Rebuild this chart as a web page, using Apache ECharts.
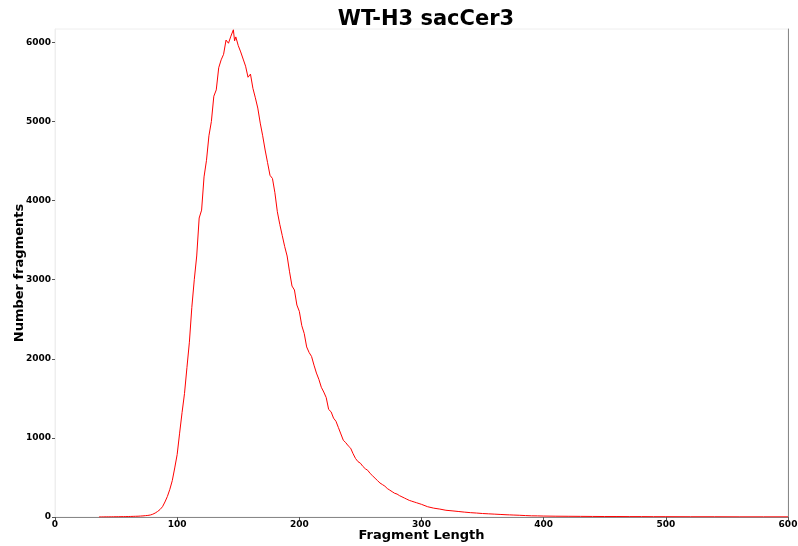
<!DOCTYPE html>
<html>
<head>
<meta charset="utf-8">
<script src="https://cdn.jsdelivr.net/npm/echarts@6/dist/echarts.min.js"></script>
<style>
  html, body { margin: 0; padding: 0; background: #fff; }
  #chart { width: 798px; height: 546px; }
</style>
</head>
<body>
<div id="chart"></div>
<script>
// fragment length (bp) and counts
const lengths = [
  36, 38, 40, 42, 44, 46, 48, 50, 52, 54, 56, 58, 60, 62, 64, 66, 68, 70, 72, 74,
  76, 78, 80, 82, 84, 86, 88, 90, 92, 94, 96, 98, 100, 102, 104, 106, 108, 110, 112, 114,
  116, 118, 120, 122, 124, 126, 128, 130, 132, 134, 136, 138, 140, 142, 144, 146, 147, 148, 150, 152,
  154, 156, 158, 160, 162, 164, 166, 168, 170, 172, 174, 176, 178, 180, 182, 184, 186, 188, 190, 192,
  194, 196, 198, 200, 202, 204, 206, 208, 210, 212, 214, 216, 218, 220, 222, 224, 226, 228, 230, 232,
  234, 236, 238, 240, 242, 244, 246, 248, 250, 252, 254, 256, 258, 260, 262, 264, 266, 268, 270, 272,
  274, 276, 278, 280, 282, 284, 286, 288, 290, 292, 294, 296, 298, 300,
  305, 310, 315, 320, 325, 330, 335, 340, 345, 350, 355, 360, 365, 370, 371, 372, 375, 380, 385, 390,
  395, 400, 410, 420, 430, 440, 450, 460, 470, 480, 490, 500, 520, 540, 560, 580, 600
];
const counts = [
  0, 1, 1, 2, 2, 2, 3, 3, 4, 4, 5, 5, 6, 7, 8, 9, 10, 12, 14, 17,
  20, 25, 35, 50, 70, 95, 130, 190, 260, 350, 460, 620, 790, 1060, 1320, 1560, 1890, 2210, 2650, 3000,
  3300, 3780, 3880, 4300, 4510, 4820, 5000, 5320, 5400, 5680, 5780, 5850, 6030, 5990, 6080, 6160, 6020, 6070, 5960, 5880,
  5790, 5700, 5560, 5600, 5420, 5300, 5170, 4980, 4820, 4640, 4480, 4320, 4280, 4100, 3860, 3700, 3560, 3420, 3300, 3100,
  2920, 2870, 2680, 2600, 2420, 2320, 2150, 2080, 2030, 1920, 1820, 1740, 1640, 1580, 1510, 1360, 1330, 1250, 1210, 1130,
  1050, 970, 940, 900, 870, 800, 740, 700, 680, 640, 610, 590, 550, 520, 490, 460, 430, 410, 390, 360,
  340, 320, 300, 290, 270, 255, 240, 225, 210, 200, 190, 180, 170, 160,
  130, 112, 100, 85, 78, 70, 62, 55, 50, 44, 40, 36, 32, 28, 38, 27, 25, 22, 18, 15,
  14, 12, 10, 9, 8, 7, 6, 6, 5, 5, 4, 4, 3, 3, 2, 2, 2
];
const xTicks = [0, 100, 200, 300, 400, 500, 600];
const yTicks = [0, 1000, 2000, 3000, 4000, 5000, 6000];

const chart = echarts.init(document.getElementById('chart'));
const font = 'DejaVu Sans';
chart.setOption({
  animation: false,
  title: {
    text: 'WT-H3 sacCer3',
    left: 421, textAlign: 'center', top: 4,
    textStyle: { fontFamily: font, fontWeight: 'bold', fontSize: 21, color: '#000' }
  },
  grid: {
    left: 55, right: 10, top: 29, bottom: 29,
    outerBoundsMode: 'none', containLabel: false,
    show: true, borderColor: '#eeeeee', borderWidth: 1, backgroundColor: '#fff'
  },
  xAxis: {
    type: 'value', min: 0, max: 600, interval: 100,
    name: 'Fragment Length', nameLocation: 'middle', nameGap: 12, nameMoveOverlap: false,
    nameTextStyle: { fontFamily: font, fontWeight: 'bold', fontSize: 13, color: '#000' },
    axisLine: { show: true, onZero: false, lineStyle: { color: '#888', width: 1 } },
    axisTick: { show: true, length: 3, lineStyle: { color: '#555' }, customValues: xTicks },
    axisLabel: { fontFamily: font, fontWeight: 'bold', fontSize: 9, color: '#000', margin: 3,
      customValues: xTicks, formatter: v => String(v) },
    splitLine: { show: false }
  },
  yAxis: [{
    type: 'value', min: 0, max: 6170, interval: 1000,
    name: 'Number fragments', nameLocation: 'middle', nameGap: 29, nameRotate: 90, nameMoveOverlap: false,
    nameTextStyle: { fontFamily: font, fontWeight: 'bold', fontSize: 13, color: '#000' },
    axisLine: { show: true, lineStyle: { color: '#eeeeee' } },
    axisTick: { show: true, length: 3, lineStyle: { color: '#555' }, customValues: yTicks },
    axisLabel: { fontFamily: font, fontWeight: 'bold', fontSize: 9, color: '#000', margin: 4,
      customValues: yTicks, formatter: v => String(v) },
    splitLine: { show: false }
  }, {
    type: 'value', min: 0, max: 6170, position: 'right',
    axisLine: { show: true, lineStyle: { color: '#888' } },
    axisTick: { show: false }, axisLabel: { show: false }, splitLine: { show: false }
  }],
  series: [{
    type: 'line',
    data: lengths.map((l, i) => [l, counts[i]]),
    showSymbol: false,
    lineStyle: { color: '#ff0000', width: 1 },
    itemStyle: { color: '#ff0000' }
  }]
});
</script>
</body>
</html>
